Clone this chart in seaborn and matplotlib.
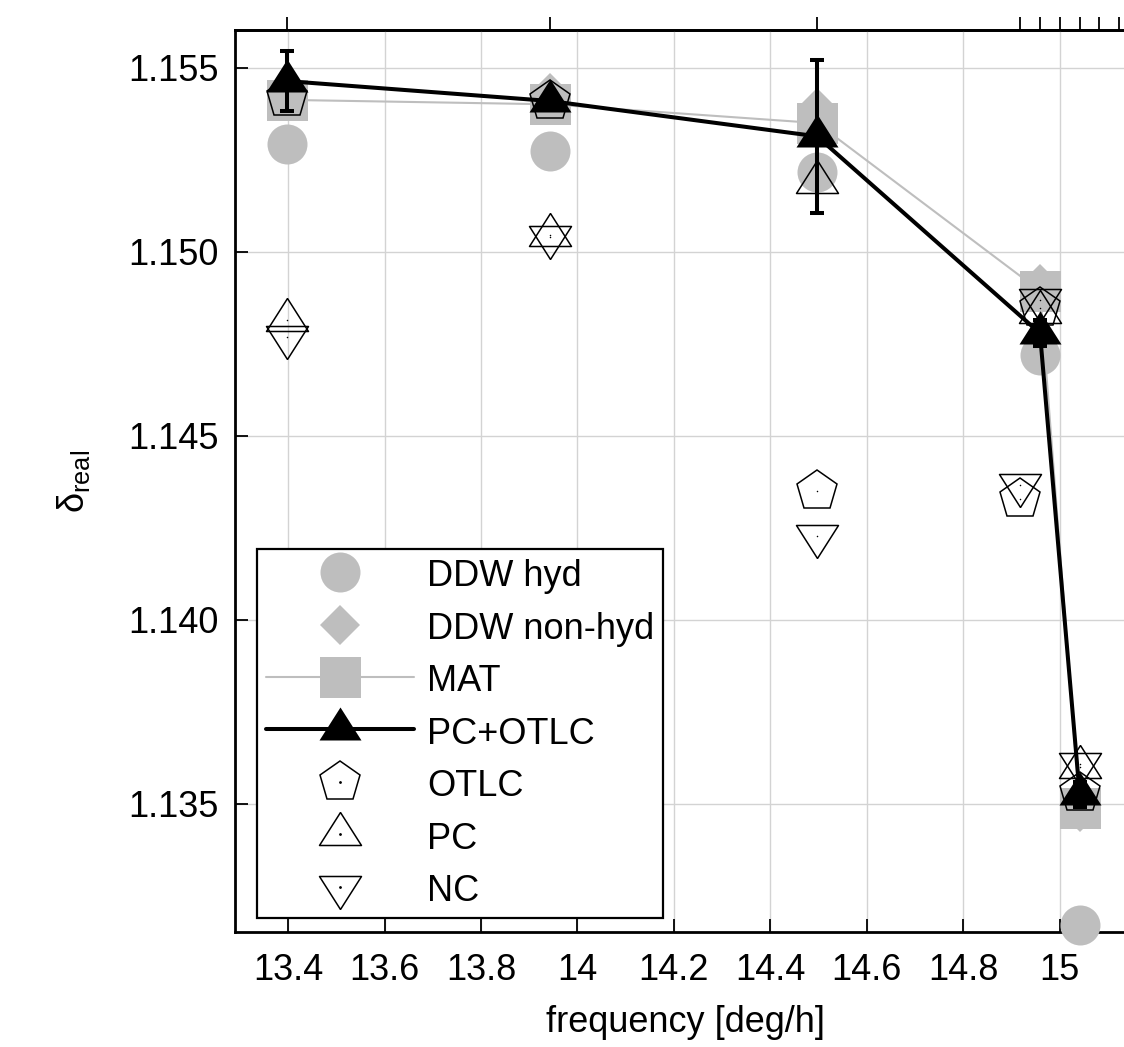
import numpy as np
import pandas as pd
import matplotlib
matplotlib.use("Agg")
import matplotlib.pyplot as plt
import seaborn as sns
from matplotlib.lines import Line2D

# ---------------- data ----------------
# tidal constituent frequencies [deg/h]
freq_main = [13.3987, 13.9430, 14.4967, 14.9589, 15.0411]          # Q1 O1 NO1 P1 K1
freq_ext = [13.3987, 13.9430, 14.4967, 14.9179, 14.9589, 15.0411]  # + pi1

ddw_hyd = [1.15293, 1.15274, 1.15215, 1.14720, 1.13170]
ddw_nonhyd = [1.15415, 1.15430, 1.15390, 1.14912, 1.13477]
mat = [1.15412, 1.15400, 1.15349, 1.14893, 1.13488]
pc_otlc = [1.15463, 1.15409, 1.15313, 1.14778, 1.13526]
pc_otlc_err = [0.00082, 0.00020, 0.00208, 0.00036, 0.00034]
otlc = [1.15416, 1.15408, 1.14350, 1.14328, 1.14847, 1.13530]
pc = [1.14814, 1.15044, 1.15190, 1.14836, 1.13600]
nc = [1.14769, 1.15039, 1.14227, 1.14365, 1.14867, 1.13608]

xticks = [13.4, 13.6, 13.8, 14.0, 14.2, 14.4, 14.6, 14.8, 15.0]
xtick_labels = ["13.4", "13.6", "13.8", "14", "14.2", "14.4", "14.6", "14.8", "15"]
yticks = [1.135, 1.140, 1.145, 1.150, 1.155]
ytick_labels = ["1.135", "1.140", "1.145", "1.150", "1.155"]
top_major = [13.3987, 13.9430, 14.4967]
top_minor = [14.9179, 14.9589, 15.0000, 15.0411, 15.0821, 15.1232]

# ---------------- style ----------------
sns.set_theme(style="white")
plt.rcParams["font.family"] = ["Liberation Sans", "DejaVu Sans"]
plt.rcParams["mathtext.fontset"] = "custom"
plt.rcParams["mathtext.rm"] = "Liberation Sans"
plt.rcParams["mathtext.it"] = "Liberation Sans:italic"
for k in ["text.color", "axes.labelcolor", "xtick.color", "ytick.color", "axes.edgecolor"]:
    plt.rcParams[k] = "black"

GRAY = "#bebebe"
FS = 26

# centroid-centred triangles (gnuplot style)
tri_up = [(0, 22), (-21, -11), (21, -11), (0, 22)]
tri_dn = [(0, -22), (-21, 11), (21, 11), (0, -22)]
ms_tri = 44 * 72 / 100
ms_circ = 40 * 72 / 100
ms_sq = 41 * 72 / 100
ms_dia = 28.5 * 72 / 100
ms_pent = 43 * 72 / 100
LW_BLACK = 2.9
LW_GRAY = 1.5

fig = plt.figure(figsize=(11.24, 10.47), dpi=100)
W, H = 1124, 1047
ax = fig.add_axes([235 / W, 1 - 932 / H, (1137 - 235) / W, (932 - 30) / H])

# ---------------- series ----------------
sns.lineplot(x=freq_main, y=ddw_hyd, ax=ax, sort=False, estimator=None, legend=False,
             linestyle="none", marker="o", markersize=ms_circ, color=GRAY,
             markeredgewidth=0, clip_on=False, zorder=3)
sns.lineplot(x=freq_main, y=ddw_nonhyd, ax=ax, sort=False, estimator=None, legend=False,
             linestyle="none", marker="D", markersize=ms_dia, color=GRAY,
             markeredgewidth=0, clip_on=False, zorder=3.1)
sns.lineplot(x=freq_main, y=mat, ax=ax, sort=False, estimator=None, legend=False,
             marker="s", markersize=ms_sq, color=GRAY, linewidth=LW_GRAY,
             markeredgewidth=0, clip_on=False, zorder=3.2)

open_kw = dict(linestyle="none", markerfacecolor="none", markeredgecolor="black",
               markeredgewidth=1.1, color="black", clip_on=False)
sns.lineplot(x=freq_ext, y=otlc, ax=ax, sort=False, estimator=None, legend=False,
             marker="p", markersize=ms_pent, zorder=4, **open_kw)
sns.lineplot(x=freq_main, y=pc, ax=ax, sort=False, estimator=None, legend=False,
             marker=tri_up, markersize=ms_tri, zorder=4.1, **open_kw)
sns.lineplot(x=freq_ext, y=nc, ax=ax, sort=False, estimator=None, legend=False,
             marker=tri_dn, markersize=ms_tri, zorder=4.2, **open_kw)
for xs, ys in [(freq_ext, otlc), (freq_main, pc), (freq_ext, nc)]:
    sns.scatterplot(x=xs, y=ys, ax=ax, s=1.2, color="black", linewidth=0,
                    legend=False, zorder=4.3, clip_on=False)

sns.lineplot(x=freq_main, y=pc_otlc, ax=ax, sort=False, estimator=None, legend=False,
             marker=tri_up, markersize=ms_tri, color="black", linewidth=LW_BLACK,
             markeredgewidth=0, clip_on=False, zorder=5)
ax.errorbar(freq_main, pc_otlc, yerr=pc_otlc_err, fmt="none", ecolor="black",
            elinewidth=LW_BLACK, capsize=5.0, capthick=LW_BLACK, zorder=5.5, clip_on=False)

# ---------------- axes ----------------
ax.set_xlim(13.29, 15.16)
ax.set_ylim(1.131511, 1.156019)
ax.set_xticks(xticks)
ax.set_xticklabels(xtick_labels)
ax.set_yticks(yticks)
ax.set_yticklabels(ytick_labels)
ax.grid(True, color="#d3d3d3", linewidth=1.0)
ax.set_axisbelow(True)
ax.tick_params(axis="both", direction="in", length=9.4, width=1.3, labelsize=FS,
               colors="black", top=False, right=True, left=True, bottom=True)
ax.tick_params(axis="x", pad=15)
ax.tick_params(axis="y", pad=12)
for sp in ax.spines.values():
    sp.set_color("black")
    sp.set_linewidth(2.0)

sec = ax.secondary_xaxis("top")
sec.set_xticks(top_major)
sec.set_xticklabels([])
sec.set_xticks(top_minor, minor=True)
sec.tick_params(which="both", direction="out", length=9.4, width=1.3, colors="black")
sec.spines["top"].set_linewidth(2.0)

ax.set_xlabel("frequency [deg/h]", fontsize=FS, labelpad=12)
ax.set_ylabel(r"δ$_\mathregular{real}$", fontsize=FS, labelpad=26)

# ---------------- legend ----------------
def dot():
    return Line2D([], [], linestyle="none", marker="o", markersize=1.0, color="black")

h_hyd = Line2D([], [], linestyle="none", marker="o", markersize=ms_circ, color=GRAY, markeredgewidth=0)
h_non = Line2D([], [], linestyle="none", marker="D", markersize=ms_dia, color=GRAY, markeredgewidth=0)
h_mat = Line2D([], [], linestyle="-", linewidth=LW_GRAY, marker="s", markersize=ms_sq, color=GRAY, markeredgewidth=0)
h_pco = Line2D([], [], linestyle="-", linewidth=LW_BLACK, marker=tri_up, markersize=ms_tri, color="black", markeredgewidth=0)
h_otlc = Line2D([], [], linestyle="none", marker="p", markersize=ms_pent, markerfacecolor="none",
                markeredgecolor="black", markeredgewidth=1.1)
h_pc = Line2D([], [], linestyle="none", marker=tri_up, markersize=ms_tri, markerfacecolor="none",
              markeredgecolor="black", markeredgewidth=1.1)
h_nc = Line2D([], [], linestyle="none", marker=tri_dn, markersize=ms_tri, markerfacecolor="none",
              markeredgecolor="black", markeredgewidth=1.1)

leg = ax.legend([h_hyd, h_non, h_mat, h_pco, (h_otlc, dot()), (h_pc, dot()), (h_nc, dot())],
                ["DDW hyd", "DDW non-hyd", "MAT", "PC+OTLC", "OTLC", "PC", "NC"],
                loc="lower left", bbox_to_anchor=(257 / W, 1 - 918 / H),
                bbox_transform=fig.transFigure, borderaxespad=0, fontsize=FS,
                frameon=True, fancybox=False, framealpha=1, edgecolor="black",
                handlelength=4.1, handletextpad=0.36, borderpad=0.25,
                labelspacing=0.44, handleheight=1.0)
leg.get_frame().set_linewidth(1.6)
leg.set_zorder(10)

fig.savefig("out.png", dpi=100)
